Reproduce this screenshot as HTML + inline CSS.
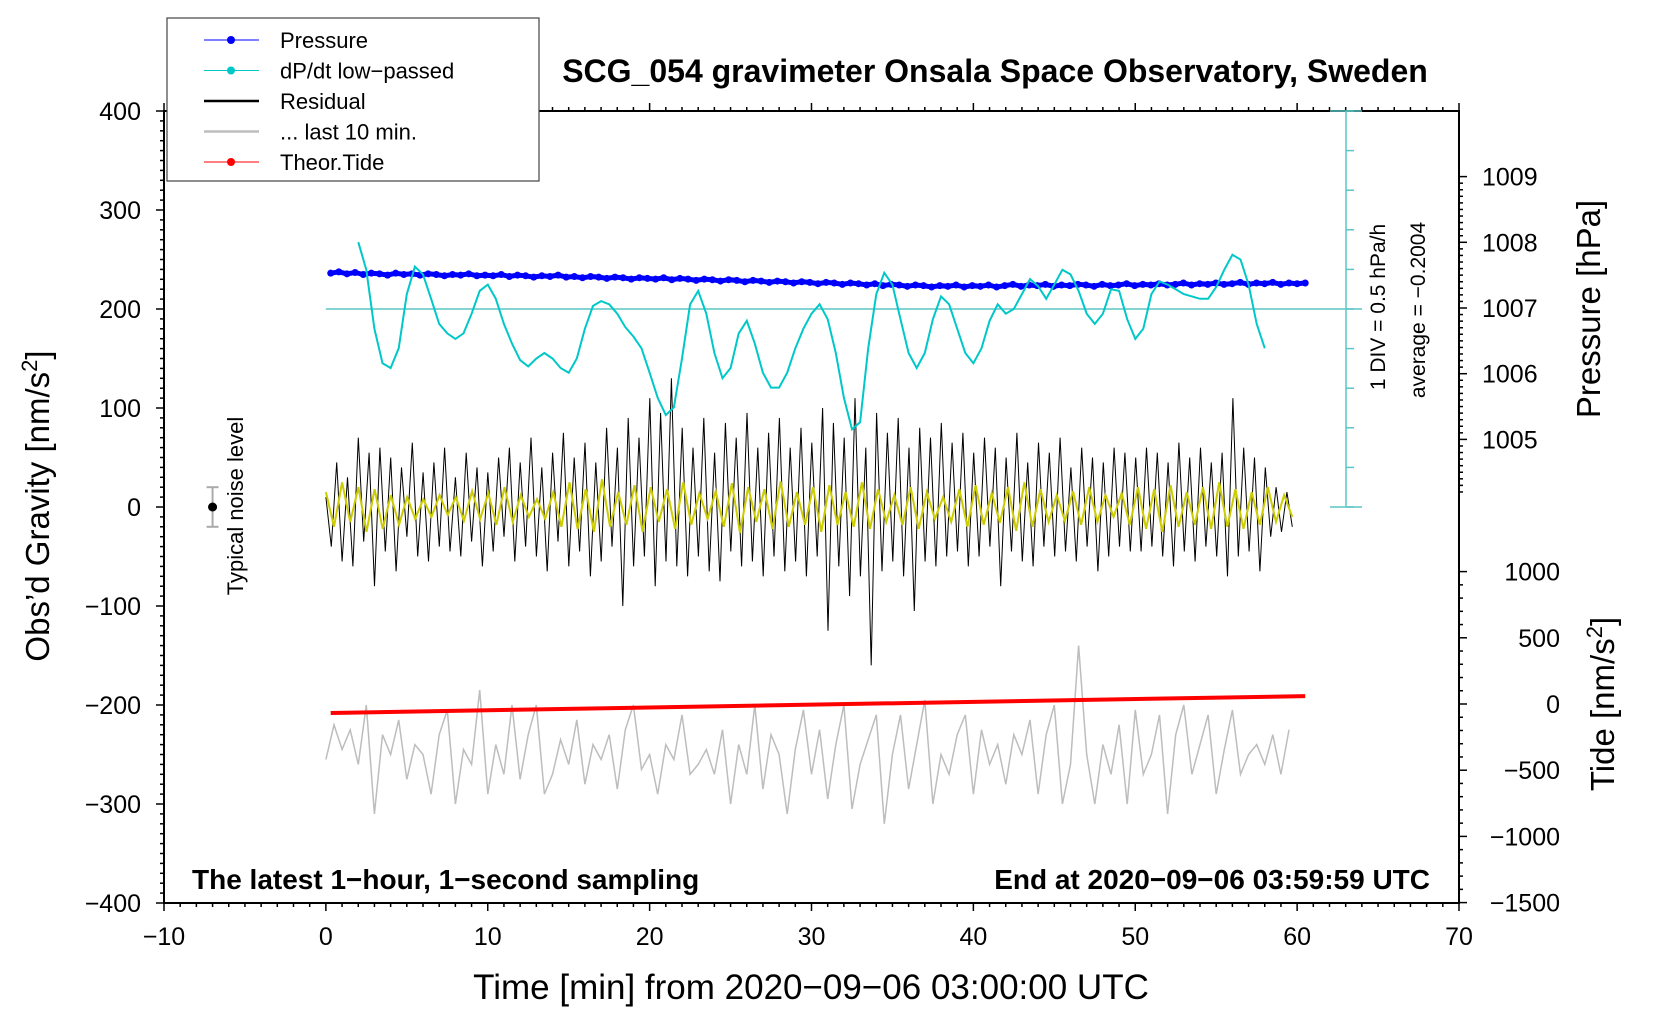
<!DOCTYPE html>
<html><head><meta charset="utf-8"><style>
html,body{margin:0;padding:0;background:#fff;}
svg{display:block;font-family:"Liberation Sans",sans-serif;}
</style></head><body>
<svg id="chart" width="1660" height="1020" viewBox="0 0 1660 1020" xmlns="http://www.w3.org/2000/svg"></svg>
<script>
const xTicks=[-10,0,10,20,30,40,50,60,70];
const gTicks=[400,300,200,100,0,-100,-200,-300,-400];
const pTicks=[1005,1006,1007,1008,1009];
const tTicks=[1000,500,0,-500,-1000,-1500];
const dpdtVals=[.85,.50,-.25,-.69,-.75,-.50,.19,.54,.44,.13,-.19,-.31,-.38,-.31,-.06,.23,.31,.13,-.19,-.44,-.65,-.73,-.63,-.56,-.63,-.75,-.81,-.63,-.25,.04,.10,.06,-.06,-.23,-.35,-.50,-.81,-1.13,-1.35,-1.25,-.63,.06,.23,-.06,-.56,-.88,-.75,-.31,-.15,-.44,-.81,-1.0,-1.0,-.81,-.5,-.25,-.06,.06,-.13,-.56,-1.13,-1.53,-1.44,-.5,.19,.46,.31,-.13,-.56,-.75,-.56,-.13,.16,.06,-.25,-.56,-.69,-.5,-.15,.06,-.06,0,.19,.38,.29,.13,.31,.5,.44,.23,-.06,-.19,-.06,.25,.23,-.13,-.38,-.25,.19,.35,.31,.25,.19,.16,.13,.13,.28,.5,.69,.63,.31,-.19,-.5];
const residVals=[10,-40,45,-55,30,-60,70,-35,55,-80,60,-45,50,-65,40,-30,65,-50,35,-55,45,-40,60,-45,30,-50,55,-35,40,-60,
35,-45,50,-30,60,-55,45,-40,70,-50,40,-65,55,-35,75,-60,50,-45,65,-70,45,-55,80,-40,60,-100,90,-60,70,-50,
110,-80,95,-55,130,-60,80,-70,60,-50,90,-65,55,-75,85,-45,70,-60,95,-55,60,-70,75,-50,90,-65,60,-55,80,-70,
65,-50,100,-125,85,-60,70,-90,110,-70,60,-160,95,-65,75,-55,90,-70,60,-105,80,-55,70,-60,85,-50,65,-45,75,-60,
55,-50,70,-40,60,-80,50,-45,75,-55,45,-60,65,-40,55,-50,70,-45,40,-55,60,-40,50,-65,45,-50,60,-40,55,-45,
50,-45,60,-40,55,-50,45,-60,65,-45,50,-55,60,-40,45,-50,55,-70,110,-50,60,-45,50,-65,40,-30,20,-25,15,-20];
const smoothVals=[15,-20,25,-15,20,-25,18,-22,12,-18,10,-12,8,-10,12,-8,10,-14,16,-12,14,-18,20,-15,12,-10,8,-12,15,-20,
25,-22,18,-25,28,-20,15,-18,22,-25,20,-15,18,-22,25,-18,14,-12,16,-20,24,-26,20,-15,18,-22,26,-20,15,-18,
20,-25,22,-18,15,-20,25,-22,18,-15,12,-18,20,-22,15,-12,10,-15,18,-20,22,-18,14,-16,20,-24,25,-20,18,-15,
12,-14,16,-18,20,-15,12,-10,14,-18,20,-22,18,-25,22,-20,15,-18,20,-22,25,-20,18,-22,15,-18,20,-15,12,-10];
const lastVals=[-255,-220,-245,-225,-260,-200,-310,-230,-250,-215,-275,-240,-250,-290,-230,-205,-300,-245,-260,-185,-290,-240,-270,-200,-275,-230,-200,-290,-270,-235,-260,-215,-280,-240,-255,-230,-285,-225,-200,-265,-250,-290,-240,-255,-210,-270,-260,-245,-270,-225,-300,-240,-270,-200,-285,-230,-250,-310,-245,-205,-270,-225,-295,-240,-200,-305,-260,-235,-210,-320,-250,-210,-285,-240,-195,-300,-250,-270,-230,-210,-290,-225,-260,-240,-280,-230,-250,-215,-290,-230,-200,-300,-260,-140,-250,-300,-240,-270,-220,-300,-205,-270,-250,-210,-310,-230,-200,-270,-240,-210,-290,-245,-205,-270,-250,-240,-260,-230,-270,-225];
const pressVals=[1007.53,1007.55,1007.52,1007.54,1007.51,1007.53,1007.52,1007.50,1007.53,1007.51,
1007.52,1007.50,1007.52,1007.51,1007.49,1007.51,1007.50,1007.52,1007.49,1007.50,
1007.49,1007.51,1007.48,1007.50,1007.49,1007.47,1007.49,1007.48,1007.50,1007.47,
1007.48,1007.46,1007.48,1007.47,1007.45,1007.47,1007.46,1007.44,1007.46,1007.45,
1007.44,1007.46,1007.43,1007.45,1007.44,1007.42,1007.44,1007.43,1007.41,1007.43,
1007.42,1007.40,1007.42,1007.41,1007.39,1007.41,1007.40,1007.38,1007.40,1007.39,
1007.37,1007.39,1007.38,1007.36,1007.38,1007.37,1007.35,1007.37,1007.34,1007.36,
1007.35,1007.33,1007.35,1007.34,1007.32,1007.34,1007.33,1007.35,1007.32,1007.34,
1007.33,1007.35,1007.32,1007.34,1007.36,1007.33,1007.35,1007.34,1007.36,1007.33,
1007.35,1007.34,1007.36,1007.35,1007.33,1007.36,1007.34,1007.35,1007.37,1007.34,
1007.36,1007.35,1007.37,1007.35,1007.36,1007.38,1007.35,1007.37,1007.36,1007.38,
1007.36,1007.37,1007.39,1007.36,1007.38,1007.37,1007.39,1007.36,1007.38,1007.37,1007.38];
const tideTimes=[0.3,60.5];
const tideVals=[-68,60];

const L=164,R=1459,T=111,B=903;
const X=t=>L+(t+10)*(R-L)/80;
const YG=g=>507-g*(B-T)/800;
const YP=p=>308-(p-1007)*65.7;
const YT=v=>704-v*0.1324;
const YD=v=>309-v*79.4*0.99;
const svg=document.getElementById('chart');
const NS='http://www.w3.org/2000/svg';
function mk(tag,attrs,parent){const e=document.createElementNS(NS,tag);for(const k in attrs)e.setAttribute(k,attrs[k]);(parent||svg).appendChild(e);return e;}
function txt(s,attrs,parent){const e=mk('text',attrs,parent);e.textContent=s;return e;}
function poly(ts,vs,yf){return ts.map((t,i)=>X(t).toFixed(1)+','+yf(vs[i]).toFixed(1)).join(' ');}
const span=(n,a,b)=>Array.from({length:n},(_,i)=>a+(b-a)*i/(n-1));

const frame=mk('rect',{x:L,y:T,width:R-L,height:B-T,fill:'none',stroke:'#000','stroke-width':2});


const xa=mk('g',{});
for(let t=-10;t<=70;t++){const maj=t%10===0,len=maj?8:4;
 mk('line',{x1:X(t),x2:X(t),y1:B,y2:B+len,stroke:'#000','stroke-width':1.5},xa);
 mk('line',{x1:X(t),x2:X(t),y1:T,y2:T-len,stroke:'#000','stroke-width':1.5},xa);}
xTicks.forEach(t=>{const e=txt(String(t).replace('-','\u2212'),{x:X(t),y:945,'font-size':25,'text-anchor':'middle'},xa);});
const xt=txt('Time [min] from 2020\u221209\u221206 03:00:00 UTC',{x:811,y:999,'font-size':35,'text-anchor':'middle'});


const ya=mk('g',{});
for(let g=-400;g<=400;g+=10){const maj=g%100===0,len=maj?8:4;mk('line',{x1:L,x2:L-len,y1:YG(g),y2:YG(g),stroke:'#000','stroke-width':1.5},ya);}
gTicks.forEach(g=>{const e=txt(String(g).replace('-','\u2212'),{x:141,y:YG(g)+9,'font-size':25,'text-anchor':'end'},ya);});
const yt=mk('text',{x:0,y:0,'font-size':33,'text-anchor':'middle',transform:'translate(49,506) rotate(-90)'});
yt.innerHTML='Obs\u2019d Gravity [nm/s<tspan dy="-12" font-size="22">2</tspan><tspan dy="12">]</tspan>';


const pa=mk('g',{});
for(let i=0;i<=48;i++){const p=1004.2+i*0.1;const y=YP(p);if(y<T||y>YP(1004.2))continue;const maj=Math.abs(p-Math.round(p))<0.01;mk('line',{x1:R,x2:R+(maj?8:4),y1:y,y2:y,stroke:'#000','stroke-width':1.5},pa);}
pTicks.forEach(p=>{const e=txt(String(p),{x:1482,y:YP(p)+9,'font-size':25},pa);});
const pt=txt('Pressure [hPa]',{x:0,y:0,'font-size':33,'text-anchor':'middle',transform:'translate(1600,309) rotate(-90)'});


const ta=mk('g',{});
for(let v=-1500;v<=1000;v+=100){const maj=v%500===0;mk('line',{x1:R,x2:R+(maj?8:4),y1:YT(v),y2:YT(v),stroke:'#000','stroke-width':1.5},ta);}
tTicks.forEach(v=>{const e=txt(String(v).replace('-','\u2212'),{x:1560,y:YT(v)+9,'font-size':25,'text-anchor':'end'},ta);});
const tt=mk('text',{x:0,y:0,'font-size':33,'text-anchor':'middle',transform:'translate(1614,704) rotate(-90)'});
tt.innerHTML='Tide [nm/s<tspan dy="-12" font-size="22">2</tspan><tspan dy="12">]</tspan>';


const ds=mk('g',{});
mk('line',{x1:1346,x2:1346,y1:T,y2:507,stroke:'#5cc6c6','stroke-width':1.5},ds);
for(let y=T;y<=508;y+=39.6){mk('line',{x1:1346,x2:1354,y1:y,y2:y,stroke:'#5cc6c6','stroke-width':1.5},ds);}
mk('line',{x1:1330,x2:1362,y1:T,y2:T,stroke:'#5cc6c6','stroke-width':1.5},ds);
mk('line',{x1:1330,x2:1362,y1:507,y2:507,stroke:'#5cc6c6','stroke-width':1.5},ds);
const zl=mk('line',{x1:X(0),x2:1362,y1:YD(0),y2:YD(0),stroke:'#5cc6c6','stroke-width':1.5});

const d1=txt('1 DIV = 0.5 hPa/h',{x:0,y:0,'font-size':21,'text-anchor':'middle',transform:'translate(1385,307) rotate(-90)'});

const d2=txt('average = \u22120.2004',{x:0,y:0,'font-size':21,'text-anchor':'middle',transform:'translate(1425,310) rotate(-90)'});


const gray=mk('polyline',{points:poly(span(lastVals.length,0,59.5),lastVals,YG),fill:'none',stroke:'#bdbdbd','stroke-width':1.5});

const resid=mk('polyline',{points:poly(span(residVals.length,0,59.7),residVals,YG),fill:'none',stroke:'#000','stroke-width':1});

const sm=mk('polyline',{points:poly(span(smoothVals.length,0,59.7),smoothVals,YG),fill:'none',stroke:'#cccc00','stroke-width':2});

const tide=mk('polyline',{points:poly(tideTimes,tideVals,YT),fill:'none',stroke:'#f00','stroke-width':4});

const pts=span(pressVals.length,0.3,60.5);
const pl=mk('polyline',{points:poly(pts,pressVals,YP),fill:'none',stroke:'#00f','stroke-width':5});

pressVals.forEach((p,i)=>{const c=mk('circle',{cx:X(pts[i]),cy:YP(p),r:3.5,fill:'#00f'});

});
const dp=mk('polyline',{points:poly(span(dpdtVals.length,2,58),dpdtVals,YD),fill:'none',stroke:'#00c8c8','stroke-width':2});


const nb=mk('g',{});
mk('line',{x1:X(-7),x2:X(-7),y1:YG(20),y2:YG(-20),stroke:'#aaa','stroke-width':2},nb);
mk('line',{x1:X(-7)-6,x2:X(-7)+6,y1:YG(20),y2:YG(20),stroke:'#aaa','stroke-width':2},nb);
mk('line',{x1:X(-7)-6,x2:X(-7)+6,y1:YG(-20),y2:YG(-20),stroke:'#aaa','stroke-width':2},nb);
mk('circle',{cx:X(-7),cy:YG(0),r:4.5,fill:'#000'},nb);
const nl=txt('Typical noise level',{x:0,y:0,'font-size':22,'text-anchor':'middle',transform:'translate(243,506) rotate(-90)'});


const ti=txt('SCG_054 gravimeter Onsala Space Observatory, Sweden',{x:995,y:82,'font-size':32,'font-weight':'bold','text-anchor':'middle'});

const bl=txt('The latest 1\u2212hour, 1\u2212second sampling',{x:192,y:889,'font-size':28,'font-weight':'bold'});

const br=txt('End at 2020\u221209\u221206 03:59:59 UTC',{x:1430,y:889,'font-size':28,'font-weight':'bold','text-anchor':'end'});


const lg=mk('g',{});
mk('rect',{x:167,y:18,width:372,height:163,fill:'#fff',stroke:'#444','stroke-width':1.2},lg);
const items=[['Pressure','#00f',1,true],['dP/dt low\u2212passed','#00c8c8',1,true],['Residual','#000',2.5,false],['... last 10 min.','#bdbdbd',2.5,false],['Theor.Tide','#f00',1,true]];
items.forEach((it,i)=>{const y=40+i*30.5;const g=mk('g',{},lg);
 
 
 mk('line',{x1:204,x2:259,y1:y,y2:y,stroke:it[1],'stroke-width':it[2]},g);
 if(it[3])mk('circle',{cx:231,cy:y,r:4,fill:it[1]},g);
 txt(it[0],{x:280,y:y+8,'font-size':22},g);});
</script>
</body></html>
